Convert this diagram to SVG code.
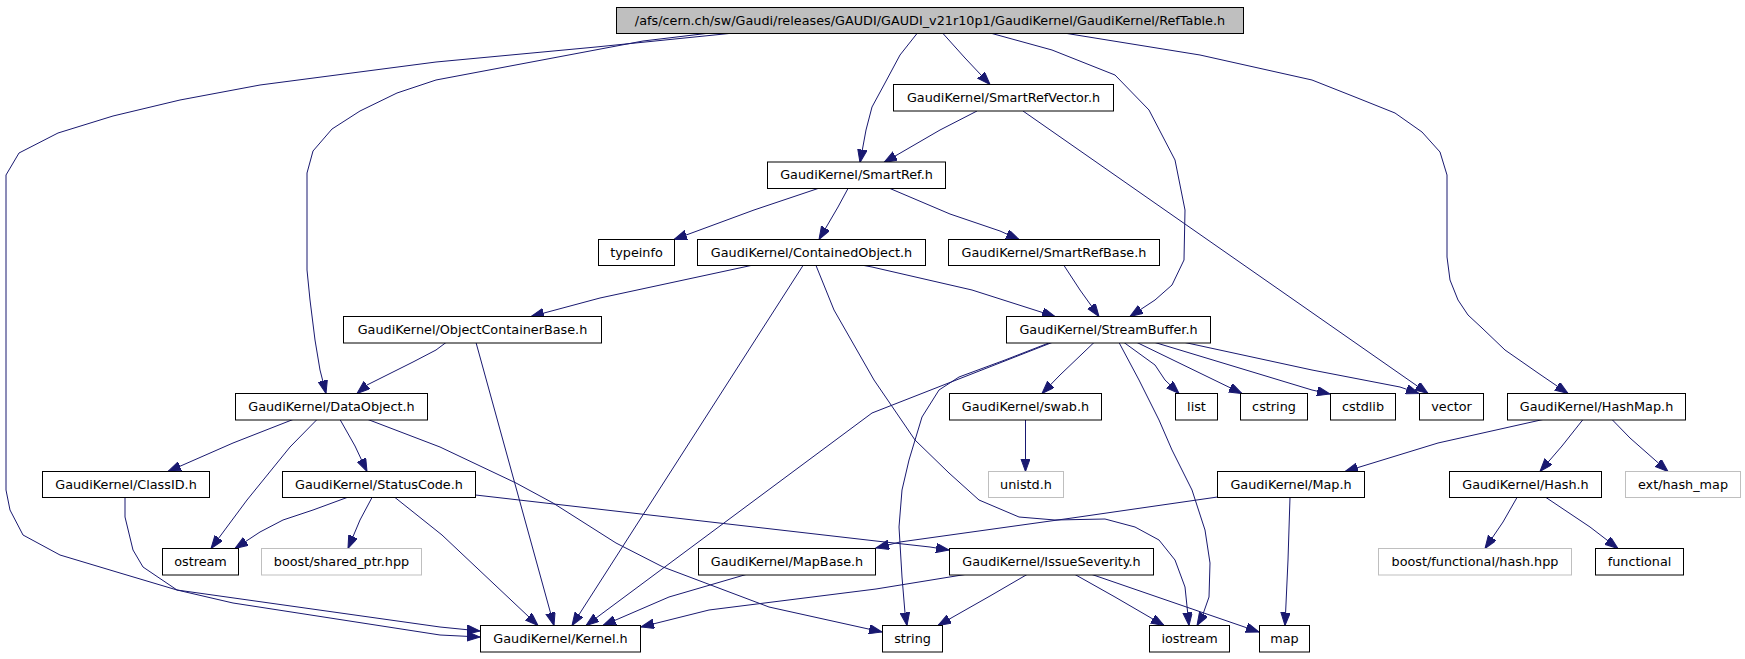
<svg xmlns="http://www.w3.org/2000/svg" width="1745" height="659" viewBox="0 0 1745 659">
<style>
.n rect{fill:#ffffff;stroke:#000000;stroke-width:1}
.g rect{fill:#ffffff;stroke:#bfbfbf;stroke-width:1}
.root rect{fill:#bfbfbf;stroke:#000000;stroke-width:1}
text{font-family:"DejaVu Sans","Liberation Sans",sans-serif;font-size:12.8px;fill:#000000;text-anchor:middle}
#edges path{fill:none;stroke:#191970;stroke-width:1;stroke-linejoin:round;marker-end:url(#ah)}
</style>
<defs>
<marker id="ah" markerWidth="14" markerHeight="10" refX="13" refY="4.7" orient="auto" markerUnits="userSpaceOnUse">
<path d="M0,0 L13,4.7 L0,9.4 z" fill="#191970" stroke="#191970" stroke-width="1"/>
</marker>
</defs>
<rect width="1745" height="659" fill="#ffffff"/>
<g id="edges">
<path d="M729,33.5 L596,47 L436,62 L260,85 L180,100 L113,116 L58,133 L19,153 L6,175 L6,490 L10,510 L23,535 L60,555 L120,573 L177,590 L440,627 L480,631"/>
<path d="M706,33.5 L643,41 L436,80 L397,93 L360,111 L332,129 L313,151 L307,173 L307,270 L310,300 L315,340 L320,370 L326,393.5"/>
<path d="M917,33.5 L900,55 L885,83 L872,107 L866,130 L860,162.5"/>
<path d="M943,33.5 L965,58 L990,84.5"/>
<path d="M992,33.5 L1052,50 L1115,75 L1149,110 L1175,160 L1185,210 L1184,260 L1172,285 L1155,300 L1130,316.5"/>
<path d="M1067,33.5 L1200,55 L1312,80 L1355,97 L1395,113 L1422,132 L1440,152 L1447,175 L1447,257 L1450,280 L1458,300 L1468,315 L1482,328 L1505,350 L1538,373 L1568,393.5"/>
<path d="M977,111 L940,130 L884,162.5"/>
<path d="M1023,111 L1428,393.5"/>
<path d="M818,188.5 L754,210 L674,239.5"/>
<path d="M848,188.5 L838,207 L819,239.5"/>
<path d="M890,188.5 L950,214 L1000,231 L1019,239.5"/>
<path d="M751,265.5 L600,298 L531,316.5"/>
<path d="M803,265.5 L572,625.5"/>
<path d="M864,265.5 L872,267 L972,290 L1055,316.5"/>
<path d="M816,265.5 L834,310 L874,380 L915,440 L949,473 L979,500 L1019,517 L1055,520 L1105,519 L1135,527 L1159,540 L1175,560 L1185,587 L1189,625.5"/>
<path d="M1064,265.5 L1080,290 L1099,316.5"/>
<path d="M446,342.5 L436,350 L413,362 L367,385 L357,393.5"/>
<path d="M476,342.5 L554,625.5"/>
<path d="M1094,342.5 L1060,375 L1042,393.5"/>
<path d="M1124,342.5 L1155,365 L1165,380 L1179,393.5"/>
<path d="M1137,342.5 L1242,393.5"/>
<path d="M1155,342.5 L1312,390 L1330,394"/>
<path d="M1185,342.5 L1312,370 L1400,387 L1419,393.5"/>
<path d="M1052,342.5 L872,413 L586,625.5"/>
<path d="M1050,342.5 L1005,360 L959,377 L939,390 L922,417 L909,460 L902,490 L899,527 L902,577 L905,613 L907,625.5"/>
<path d="M1119,342.5 L1139,380 L1159,420 L1172,450 L1192,490 L1205,530 L1210,563 L1209,597 L1202,617 L1197,625.5"/>
<path d="M1025.5,419.5 L1025.5,471.5"/>
<path d="M293,419.5 L233,443 L168,471.5"/>
<path d="M317,419.5 L290,447 L247,500 L211,548.5"/>
<path d="M340,419.5 L355,446 L367,471.5"/>
<path d="M368,419.5 L440,447 L516,483 L553,503 L616,543 L663,567 L716,587 L769,607 L882,632"/>
<path d="M125,497.5 L125,517 L133,550 L143,567 L177,590 L233,603 L440,635 L480,637"/>
<path d="M347,497.5 L313,510 L283,520 L260,532 L235,548.5"/>
<path d="M372,497.5 L360,520 L348,548.5"/>
<path d="M395,497.5 L442,535 L538,625.5"/>
<path d="M475.5,495 L876,541 L930,547 L949,550"/>
<path d="M1217.5,497 L1072,518 L900,542 L876,548"/>
<path d="M1290,497.5 L1288,560 L1285,625.5"/>
<path d="M746,574.5 L669,597 L603,625.5"/>
<path d="M965,574.5 L876,589 L709,610 L641,627"/>
<path d="M1027,574.5 L990,596 L938,625.5"/>
<path d="M1075,574.5 L1115,597 L1164,625.5"/>
<path d="M1092,574.5 L1259,632"/>
<path d="M1543,419.5 L1438,443 L1345,471.5"/>
<path d="M1583,419.5 L1562,446 L1540,471.5"/>
<path d="M1612,419.5 L1630,438 L1668,471.5"/>
<path d="M1517,497.5 L1503,522 L1485,548.5"/>
<path d="M1546,497.5 L1590,527 L1618,548.5"/>
</g>
<g id="RefTable" class="root"><rect x="616.5" y="7.5" width="627" height="26"/><text x="930" y="24.5">/afs/cern.ch/sw/Gaudi/releases/GAUDI/GAUDI_v21r10p1/GaudiKernel/GaudiKernel/RefTable.h</text></g>
<g id="SmartRefVector" class="n"><rect x="893.5" y="84.5" width="220" height="26.5"/><text x="1003.5" y="101.5">GaudiKernel/SmartRefVector.h</text></g>
<g id="SmartRef" class="n"><rect x="767.5" y="162" width="178" height="26.5"/><text x="856.5" y="179">GaudiKernel/SmartRef.h</text></g>
<g id="typeinfo" class="n"><rect x="598.5" y="239.5" width="76" height="26"/><text x="636.5" y="256.5">typeinfo</text></g>
<g id="ContainedObject" class="n"><rect x="697.5" y="239.5" width="228" height="26"/><text x="811.5" y="256.5">GaudiKernel/ContainedObject.h</text></g>
<g id="SmartRefBase" class="n"><rect x="948.5" y="239.5" width="211" height="26"/><text x="1054" y="256.5">GaudiKernel/SmartRefBase.h</text></g>
<g id="ObjectContainerBase" class="n"><rect x="343.5" y="316.5" width="258" height="26.5"/><text x="472.5" y="333.5">GaudiKernel/ObjectContainerBase.h</text></g>
<g id="StreamBuffer" class="n"><rect x="1006.5" y="316.5" width="204" height="26.5"/><text x="1108.5" y="333.5">GaudiKernel/StreamBuffer.h</text></g>
<g id="DataObject" class="n"><rect x="235.5" y="393.5" width="192" height="26.5"/><text x="331.5" y="410.5">GaudiKernel/DataObject.h</text></g>
<g id="swab" class="n"><rect x="949.5" y="393.5" width="152" height="26.5"/><text x="1025.5" y="410.5">GaudiKernel/swab.h</text></g>
<g id="list" class="n"><rect x="1175.5" y="393.5" width="42" height="26.5"/><text x="1196.5" y="410.5">list</text></g>
<g id="cstring" class="n"><rect x="1240.5" y="393.5" width="67" height="26.5"/><text x="1274" y="410.5">cstring</text></g>
<g id="cstdlib" class="n"><rect x="1330.5" y="393.5" width="65" height="26.5"/><text x="1363" y="410.5">cstdlib</text></g>
<g id="vector" class="n"><rect x="1419.5" y="393.5" width="64" height="26.5"/><text x="1451.5" y="410.5">vector</text></g>
<g id="HashMap" class="n"><rect x="1507.5" y="393.5" width="178" height="26.5"/><text x="1596.5" y="410.5">GaudiKernel/HashMap.h</text></g>
<g id="ClassID" class="n"><rect x="42.5" y="471.5" width="167" height="26"/><text x="126" y="488.5">GaudiKernel/ClassID.h</text></g>
<g id="StatusCode" class="n"><rect x="282.5" y="471.5" width="193" height="26"/><text x="379" y="488.5">GaudiKernel/StatusCode.h</text></g>
<g id="unistd" class="g"><rect x="988.5" y="471.5" width="75" height="26"/><text x="1026" y="488.5">unistd.h</text></g>
<g id="Map" class="n"><rect x="1217.5" y="471.5" width="147" height="26"/><text x="1291" y="488.5">GaudiKernel/Map.h</text></g>
<g id="Hash" class="n"><rect x="1449.5" y="471.5" width="152" height="26"/><text x="1525.5" y="488.5">GaudiKernel/Hash.h</text></g>
<g id="ext_hash_map" class="g"><rect x="1625.5" y="471.5" width="115" height="26"/><text x="1683" y="488.5">ext/hash_map</text></g>
<g id="ostream" class="n"><rect x="162.5" y="548.5" width="76" height="26.5"/><text x="200.5" y="565.5">ostream</text></g>
<g id="boost_shared_ptr" class="g"><rect x="261.5" y="548.5" width="160" height="26.5"/><text x="341.5" y="565.5">boost/shared_ptr.hpp</text></g>
<g id="MapBase" class="n"><rect x="698.5" y="548.5" width="177" height="26.5"/><text x="787" y="565.5">GaudiKernel/MapBase.h</text></g>
<g id="IssueSeverity" class="n"><rect x="949.5" y="548.5" width="204" height="26.5"/><text x="1051.5" y="565.5">GaudiKernel/IssueSeverity.h</text></g>
<g id="boost_functional_hash" class="g"><rect x="1378.5" y="548.5" width="193" height="26.5"/><text x="1475" y="565.5">boost/functional/hash.hpp</text></g>
<g id="functional" class="n"><rect x="1595.5" y="548.5" width="88" height="26.5"/><text x="1639.5" y="565.5">functional</text></g>
<g id="Kernel" class="n"><rect x="480.5" y="625.5" width="160" height="26.5"/><text x="560.5" y="642.5">GaudiKernel/Kernel.h</text></g>
<g id="string" class="n"><rect x="882.5" y="625.5" width="60" height="26.5"/><text x="912.5" y="642.5">string</text></g>
<g id="iostream" class="n"><rect x="1149.5" y="625.5" width="80" height="26.5"/><text x="1189.5" y="642.5">iostream</text></g>
<g id="map" class="n"><rect x="1259.5" y="625.5" width="50" height="26.5"/><text x="1284.5" y="642.5">map</text></g>
</svg>
